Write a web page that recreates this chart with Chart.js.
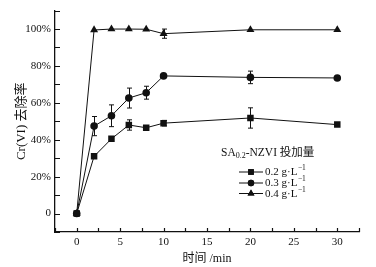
<!DOCTYPE html>
<html>
<head>
<meta charset="utf-8">
<script src="https://cdn.jsdelivr.net/npm/chart.js@4/dist/chart.umd.min.js"></script>
<style>
html,body{margin:0;padding:0;background:#fff;}
#wrap{width:376px;height:267px;position:relative;}
</style>
</head>
<body>
<div id="wrap"><canvas id="c" width="376" height="267"></canvas></div>
<script>
// ---- data ----
const times = [0, 2, 4, 6, 8, 10, 20, 30];
const dose02 = [0, 31, 40.5, 48, 46.5, 49, 51.8, 48.2];
const dose02Err = [0, 0, 0, 2.8, 1, 1.5, 5.5, 0];
const dose03 = [0, 47.4, 53, 62.6, 65.5, 74.6, 73.8, 73.5];
const dose03Err = [0, 5.2, 5.9, 5.4, 3.5, 0, 3.4, 0];
const dose04 = [0, 99.5, 100, 100, 99.9, 97.5, 99.6, 99.6];
const dose04Err = [0, 0, 0, 0, 0, 2.5, 0, 0];
const seriesLabels = ['0.2 g·L', '0.3 g·L', '0.4 g·L'];
const seriesSup = '−1';
const legendTitleMain = 'SA';
const legendTitleSub = '0.2';
const legendTitleRest = '-NZVI 投加量';
const xTitle = '时间 /min';
const yTitle = 'Cr(VI) 去除率';

const serif = "'Liberation Serif','Times New Roman','Noto Sans CJK SC',serif";
const ink = '#111';

function toPts(arr) { return times.map((t, i) => ({x: t, y: arr[i]})); }

const styles = ['rect', 'circle', 'triangle'];
const radii = [4.6, 3.8, 4.6];
const errs = [dose02Err, dose03Err, dose04Err];

const datasets = [dose02, dose03, dose04].map((d, i) => ({
  label: seriesLabels[i],
  data: toPts(d),
  borderColor: ink,
  backgroundColor: ink,
  borderWidth: 1,
  pointStyle: styles[i],
  pointRadius: radii[i],
  pointBackgroundColor: ink,
  pointBorderColor: ink,
  pointBorderWidth: 0,
  tension: 0
}));

const extras = {
  id: 'extras',
  afterDatasetsDraw(chart) {
    const ctx = chart.ctx;
    const xs = chart.scales.x, ys = chart.scales.y;
    ctx.save();
    ctx.strokeStyle = ink;
    ctx.lineWidth = 1;
    // error bars
    [dose02, dose03, dose04].forEach((d, si) => {
      d.forEach((v, i) => {
        const e = errs[si][i];
        if (!e) return;
        const px = Math.round(xs.getPixelForValue(times[i])) + 0.5;
        const y1 = ys.getPixelForValue(v + e), y2 = ys.getPixelForValue(v - e);
        ctx.beginPath();
        ctx.moveTo(px, y1); ctx.lineTo(px, y2);
        ctx.moveTo(px - 2.5, y1); ctx.lineTo(px + 2.5, y1);
        ctx.moveTo(px - 2.5, y2); ctx.lineTo(px + 2.5, y2);
        ctx.stroke();
      });
    });
    ctx.restore();
  },
  afterDraw(chart) {
    const ctx = chart.ctx;
    const xs = chart.scales.x, ys = chart.scales.y;
    const a = chart.chartArea;
    ctx.save();
    ctx.strokeStyle = ink;
    ctx.lineWidth = 1.2;
    ctx.beginPath();
    // inward ticks
    xs.ticks.forEach(t => {
      const px = Math.round(xs.getPixelForValue(t.value)) + 0.5;
      ctx.moveTo(px, a.bottom); ctx.lineTo(px, a.bottom - 4);
    });
    ys.ticks.forEach(t => {
      const py = Math.round(ys.getPixelForValue(t.value)) + 0.5;
      ctx.moveTo(a.left, py); ctx.lineTo(a.left + 5, py);
    });
    ctx.stroke();

    // legend
    ctx.fillStyle = ink;
    ctx.textBaseline = 'middle';
    ctx.textAlign = 'left';
    let x = 221, y = 153;
    ctx.font = '11.5px ' + serif;
    ctx.fillText(legendTitleMain, x, y);
    x += ctx.measureText(legendTitleMain).width;
    ctx.font = '8px ' + serif;
    ctx.fillText(legendTitleSub, x, y + 3);
    x += ctx.measureText(legendTitleSub).width;
    ctx.font = '11.5px ' + serif;
    ctx.fillText(legendTitleRest, x, y);

    const rows = [171.5, 182.5, 193];
    rows.forEach((ry, i) => {
      ctx.lineWidth = 1;
      ctx.strokeStyle = ink;
      ctx.beginPath();
      ctx.moveTo(239, ry + 0.5); ctx.lineTo(263, ry + 0.5);
      ctx.stroke();
      Chart.helpers.drawPoint(ctx, {pointStyle: styles[i], radius: radii[i] - 0.6, borderWidth: 0}, 251, ry + 0.5);
      ctx.fill();
      ctx.font = '11px ' + serif;
      ctx.fillText(seriesLabels[i], 265, ry + 1);
      const w = ctx.measureText(seriesLabels[i]).width;
      ctx.font = '7.5px ' + serif;
      ctx.fillText(seriesSup, 265 + w + 0.5, ry - 3);
    });
    ctx.restore();
  }
};

new Chart(document.getElementById('c'), {
  type: 'line',
  data: {datasets},
  options: {
    responsive: false,
    animation: false,
    devicePixelRatio: 1,
    layout: {padding: {top: 9, right: 17, left: 0, bottom: 0}},
    plugins: {legend: {display: false}, tooltip: {enabled: false}},
    scales: {
      x: {
        type: 'linear',
        min: -2.5, max: 32.5,
        afterFit(s) { s.height = 35; },
        grid: {display: false, drawTicks: false},
        border: {display: true, color: ink, width: 1.3},
        ticks: {
          stepSize: 2.5,
          autoSkip: false,
          maxRotation: 0,
          padding: 4,
          color: ink,
          font: {family: serif, size: 11},
          callback: v => (v >= 0 && v % 5 === 0) ? String(v) : ''
        },
        title: {display: true, text: xTitle, color: ink, font: {family: serif, size: 12}, padding: {top: 0, bottom: 1}}
      },
      y: {
        type: 'linear',
        min: -10, max: 110,
        afterFit(s) { s.width = 55; },
        grid: {display: false, drawTicks: false},
        border: {display: true, color: ink, width: 1.3},
        ticks: {
          stepSize: 10,
          autoSkip: false,
          padding: 4,
          color: ink,
          font: {family: serif, size: 11},
          callback: v => (v >= 0 && v % 20 === 0) ? (v === 0 ? '0' : v + '%') : ''
        },
        title: {display: true, text: yTitle, color: ink, font: {family: serif, size: 13}, padding: {top: 14, bottom: 0}}
      }
    }
  },
  plugins: [extras]
});
</script>
</body>
</html>
